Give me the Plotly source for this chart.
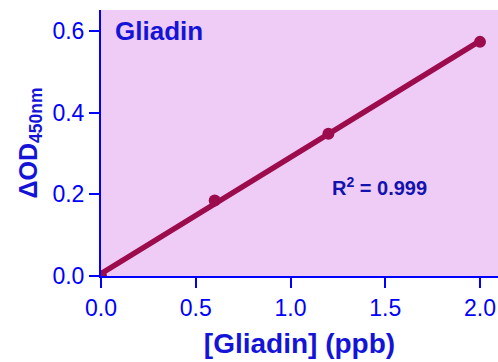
import numpy as np
import plotly.graph_objects as go

conc = [0.0, 0.6, 1.2, 2.0]
od = [0.0, 0.185, 0.348, 0.573]
x_ticks = [0.0, 0.5, 1.0, 1.5, 2.0]
x_ticklabels = ["0.0", "0.5", "1.0", "1.5", "2.0"]
y_ticks = [0.0, 0.2, 0.4, 0.6]
y_ticklabels = ["0.0", "0.2", "0.4", "0.6"]

slope, intercept = np.polyfit(conc, od, 1)
fit_x = [min(conc), max(conc)]
fit_y = [slope * v + intercept for v in fit_x]

line_color = "#9C0C4C"
font_family = "Liberation Sans, Arial, sans-serif"
title_color = "#1414D8"

fig = go.Figure()
fig.add_trace(go.Scatter(x=fit_x, y=fit_y, mode="lines",
                         line=dict(color=line_color, width=5.5), showlegend=False))
fig.add_trace(go.Scatter(x=conc, y=od, mode="markers",
                         marker=dict(color=line_color, size=12), showlegend=False))

fig.add_annotation(x=0.063, y=0.6, xref="x", yref="y", text="<b>Gliadin</b>",
                   showarrow=False, xanchor="left", yanchor="middle",
                   font=dict(family=font_family, size=26, color=title_color))
fig.add_annotation(x=1.472, y=0.218, xref="x", yref="y", text="<b>R<sup>2</sup> = 0.999</b>",
                   showarrow=False, xanchor="center", yanchor="middle",
                   font=dict(family=font_family, size=20, color="#1212B0"))

fig.update_layout(
    width=498, height=362,
    margin=dict(l=101, r=0, t=10, b=86, autoexpand=False),
    paper_bgcolor="white",
    plot_bgcolor="#EECCF6",
    font=dict(family=font_family, color="#0000FF"),
    xaxis=dict(range=[0, 2.095], tickvals=x_ticks, ticktext=x_ticklabels,
               showgrid=False, zeroline=False, showline=True, linecolor="#0000FF",
               linewidth=2, ticks="outside", ticklen=10, tickwidth=2, tickcolor="#0000FF",
               tickfont=dict(size=23, color="#0000FF"), automargin=False,
               title=dict(text="<b>[Gliadin] (ppb)</b>", standoff=14,
                          font=dict(size=28, color=title_color))),
    yaxis=dict(range=[0, 0.651], tickvals=y_ticks, ticktext=y_ticklabels,
               showgrid=False, zeroline=False, showline=True, linecolor="#0000FF",
               linewidth=2, ticks="outside", ticklen=10, tickwidth=2, tickcolor="#0000FF",
               tickfont=dict(size=23, color="#0000FF"), automargin=False,
               title=dict(text="<b>ΔOD<sub>450nm</sub></b>", standoff=8,
                          font=dict(size=25, color=title_color))),
)

fig.write_html("out.html", config={"displayModeBar": False},
               post_script="document.body.style.margin='0';")
